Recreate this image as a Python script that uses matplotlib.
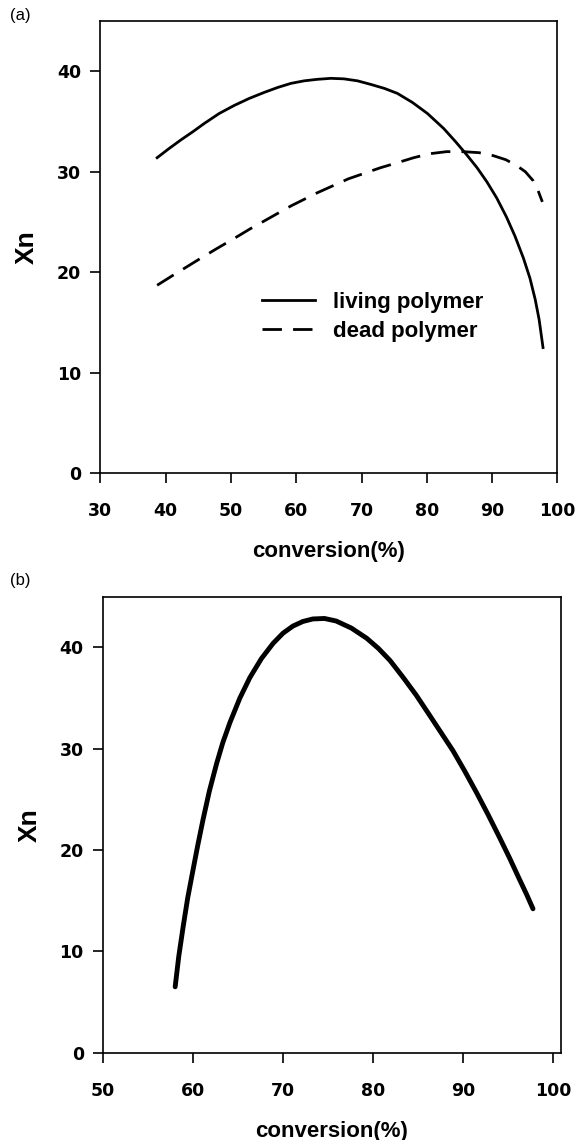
import matplotlib
matplotlib.use("Agg")
import matplotlib.pyplot as plt

plt.rcParams['font.family'] = ['Liberation Sans', 'DejaVu Sans']

# ---- panel (a): living vs dead polymer ----
conv_living = [38.7, 40.5, 42.4, 44.2, 45.9, 48.2, 50.5, 52.8, 55.1, 57.2, 59.2, 61.2, 63.2,
               65.3, 67.3, 69.4, 71.4, 73.5, 75.5, 77.8, 80.1, 82.6, 84.4, 86.1, 87.7, 89.2,
               90.7, 92.2, 93.5, 94.8, 95.8, 96.6, 97.2, 97.8]
xn_living = [31.4, 32.3, 33.2, 34.0, 34.8, 35.8, 36.6, 37.3, 37.9, 38.4, 38.8, 39.05, 39.2,
             39.3, 39.25, 39.05, 38.7, 38.3, 37.8, 36.9, 35.8, 34.3, 33.0, 31.7, 30.4, 29.0,
             27.4, 25.5, 23.6, 21.4, 19.4, 17.3, 15.3, 12.5]

conv_dead = [38.7, 40.9, 44.9, 47.7, 50.6, 52.9, 55.1, 59.2, 63.2, 68.0, 72.9, 75.5, 78.0,
             80.5, 83.0, 85.6, 88.0, 90.2, 92.1, 93.8, 95.1, 96.3, 97.0, 97.7]
xn_dead = [18.7, 19.6, 21.2, 22.3, 23.4, 24.3, 25.1, 26.6, 27.9, 29.3, 30.4, 30.9, 31.4,
           31.8, 32.0, 32.0, 31.9, 31.6, 31.2, 30.6, 30.0, 29.1, 28.2, 27.0]

# ---- panel (b) ----
conv_b = [58.0, 58.4, 58.9, 59.4, 60.0, 60.5, 61.1, 61.8, 62.6, 63.3, 64.1, 65.2, 66.3,
          67.6, 68.9, 70.0, 71.1, 72.2, 73.3, 74.6, 75.9, 77.6, 79.3, 80.6, 81.9, 83.3,
          84.8, 86.3, 87.6, 88.9, 90.2, 91.5, 92.8, 94.1, 95.2, 96.3, 97.1, 97.8]
xn_b = [6.5, 9.5, 12.5, 15.3, 18.1, 20.4, 23.0, 25.8, 28.5, 30.6, 32.6, 35.0, 37.0,
        38.9, 40.4, 41.4, 42.1, 42.55, 42.8, 42.85, 42.6, 41.9, 40.9, 39.9, 38.7, 37.1,
        35.3, 33.3, 31.55, 29.8, 27.8, 25.7, 23.5, 21.2, 19.2, 17.1, 15.6, 14.2]

xticks_a = [30, 40, 50, 60, 70, 80, 90, 100]
xticks_b = [50, 60, 70, 80, 90, 100]
yticks = [0, 10, 20, 30, 40]

fig = plt.figure(figsize=(5.8, 11.4), dpi=100)
ax1 = fig.add_axes([0.173, 0.585, 0.788, 0.3965])
ax2 = fig.add_axes([0.178, 0.0766, 0.789, 0.400])


def style(ax, xticks, xlim):
    ax.set_xlim(*xlim)
    ax.set_ylim(0, 45)
    ax.set_xticks(xticks)
    ax.set_yticks(yticks)
    ax.tick_params(direction='out', length=7, width=1.2)
    ax.tick_params(axis='x', pad=14)
    ax.tick_params(axis='y', pad=7)
    for lab in ax.get_xticklabels() + ax.get_yticklabels():
        lab.set_fontfamily('DejaVu Sans')
        lab.set_fontweight('bold')
        lab.set_fontsize(12.5)
    for sp in ax.spines.values():
        sp.set_linewidth(1.2)
    ax.set_ylabel('Xn', fontsize=19, fontweight='bold', labelpad=13)
    ax.set_xlabel('conversion(%)', fontsize=16, fontweight='bold', labelpad=15)


ax1.plot(conv_living, xn_living, color='black', lw=2, label='living polymer')
ax1.plot(conv_dead, xn_dead, color='black', lw=2, dashes=(7, 4), label='dead polymer')
style(ax1, xticks_a, (30, 100))
ax1.legend(loc='upper left', bbox_to_anchor=(0.31, 0.445), frameon=False,
           prop={'size': 16, 'weight': 'bold'},
           handlelength=2.4, handletextpad=0.8, labelspacing=0.35)

ax2.plot(conv_b, xn_b, color='black', lw=3.5, solid_capstyle='round')
style(ax2, xticks_b, (50, 100.9))

fig.text(0.018, 0.986, '(a)', fontsize=12, va='center')
fig.text(0.018, 0.491, '(b)', fontsize=12, va='center')

fig.savefig('out.png', dpi=100)
